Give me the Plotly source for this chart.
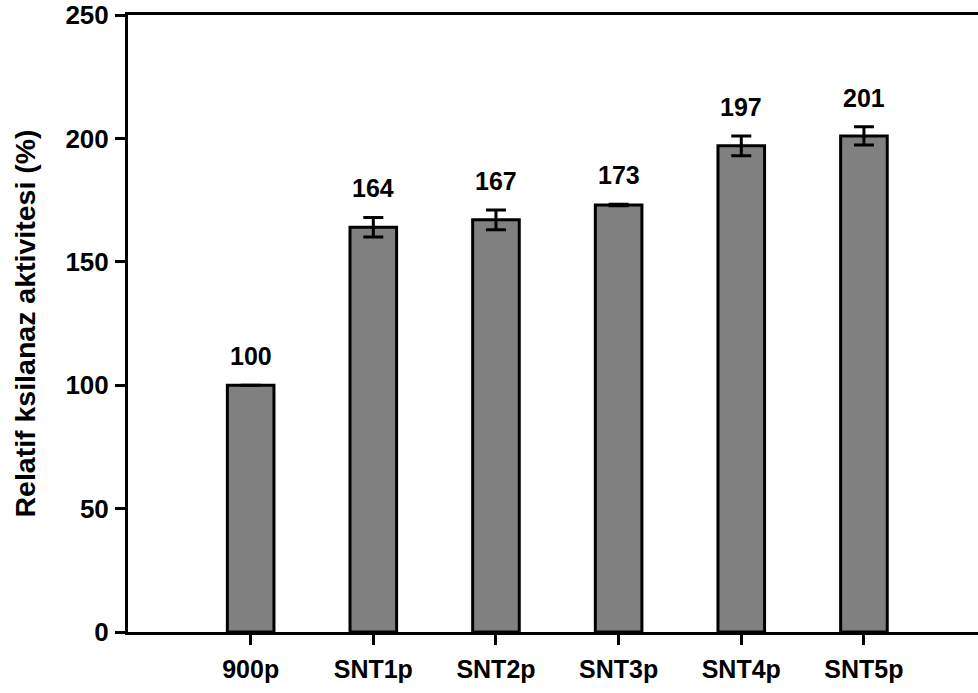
import plotly.graph_objects as go

categories = ["900p", "SNT1p", "SNT2p", "SNT3p", "SNT4p", "SNT5p"]
values = [100, 164, 167, 173, 197, 201]
errors = [0, 4, 4, 0.3, 4, 3.7]
y_ticks = [0, 50, 100, 150, 200, 250]

FONT = "Liberation Sans, Arial, sans-serif"

fig = go.Figure()
fig.add_trace(go.Bar(
    x=list(range(len(categories))),
    y=values,
    width=0.38,
    marker=dict(color="#808080", line=dict(color="black", width=3)),
    error_y=dict(type="data", array=errors, visible=True,
                 color="black", thickness=3, width=10),
))

for i, (v, e) in enumerate(zip(values, errors)):
    fig.add_annotation(x=i, y=v + e, text=f"<b>{v}</b>", showarrow=False,
                       yanchor="bottom", yshift=13,
                       font=dict(family=FONT, size=25, color="black"))

fig.update_layout(
    width=978, height=693,
    margin=dict(l=128, r=0, t=15, b=61),
    plot_bgcolor="white", paper_bgcolor="white",
    showlegend=False,
    font=dict(family=FONT, color="black"),
)
fig.update_xaxes(
    range=[-1, 5.93],
    tickmode="array", tickvals=list(range(len(categories))),
    ticktext=[f"<b>{c}</b>" for c in categories],
    tickfont=dict(family=FONT, size=25, color="black"),
    showline=True, linecolor="black", linewidth=3, mirror=True,
    ticks="outside", ticklen=10, tickwidth=3, tickcolor="black",
    ticklabelstandoff=3,
    showgrid=False, zeroline=False,
)
fig.update_yaxes(
    range=[0, 250],
    tickmode="array", tickvals=y_ticks,
    ticktext=[f"<b>{t}</b>" for t in y_ticks],
    tickfont=dict(family=FONT, size=26, color="black"),
    showline=True, linecolor="black", linewidth=3, mirror=False,
    ticks="outside", ticklen=10, tickwidth=3, tickcolor="black",
    ticklabelstandoff=1,
    showgrid=False, zeroline=False,
    title=dict(text="<b>Relatif ksilanaz aktivitesi (%)</b>",
               font=dict(family=FONT, size=28.5, color="black"), standoff=22),
)

fig.write_html("out.html")
